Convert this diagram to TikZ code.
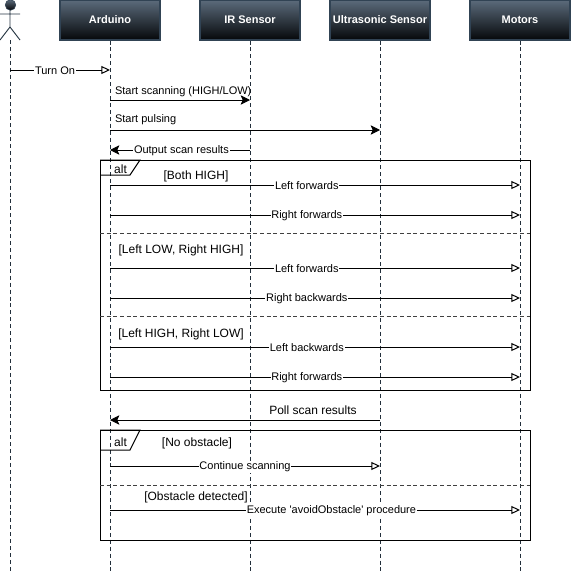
\documentclass[tikz,border=0pt]{standalone}
\usepackage{fontspec}
\setmainfont{Liberation Sans}
\usetikzlibrary{arrows.meta}
\definecolor{headtop}{HTML}{5B6B7B}
\definecolor{headbot}{HTML}{05070A}
\definecolor{headline}{HTML}{314354}
\tikzset{
  header/.style={draw=headline, line width=0.8pt, top color=headtop, bottom color=headbot,
    minimum width=75pt, minimum height=30pt, inner sep=0pt, text=white, font=\fontsize{8.25}{10}\bfseries\selectfont},
  lifeline/.style={draw=headline!70!black, dashed, dash pattern=on 3pt off 2.2pt, line width=0.6pt},
  openmsg/.style={-{Triangle[open,length=6.5pt,width=6pt]}, line width=0.75pt},
  fullmsg/.style={-{Stealth[length=7pt,width=7pt,inset=1.5pt]}, line width=0.75pt},
  msgtext/.style={fill=white, inner sep=0.6pt, yshift=-0.7pt, font=\fontsize{8.25}{10}\selectfont},
  guard/.style={inner sep=0pt, yshift=-0.7pt, font=\fontsize{9}{11}\selectfont},
  frame/.style={draw, line width=0.75pt},
  divider/.style={dashed, dash pattern=on 3pt off 2pt, draw=black!75, line width=0.75pt}
}
\begin{document}
\begin{tikzpicture}[x=0.75pt,y=-0.75pt]
  \useasboundingbox (0,0) rectangle (571,571);
  \clip (0,0) rectangle (571,571);

  % Lifeline heads
  \foreach \name/\x/\txt in {arduino/110/Arduino,ir/250/IR Sensor,ultra/380/Ultrasonic Sensor,motors/520/Motors} {
    \node[header] (\name) at (\x,20) {\raisebox{-0.6pt}{\txt}};
    \coordinate (\name end) at (\x,571);
    \draw[lifeline] (\name) -- (\name end);
  }

  % Actor
  \coordinate (user) at (10,40);
  \coordinate (user end) at (10,571);
  \shade[top color=headtop, bottom color=headbot, draw=headline] (10.5,5) circle (5.3);
  \draw[headline!80!black, line width=0.7pt] (10,10) -- (10,27) (0,14) -- (20,14) (0,40) -- (10,27) -- (20,40);
  \draw[lifeline] (user) -- (user end);

  % Frames
  \draw[frame] (100,160) rectangle (530,390);
  \draw[frame] (100,160) -- (140,160) -- (130,175) -- (100,175);
  \node[guard] (alta) at (120.5,168) {alt};
  \draw[divider] (100,233) -- (530,233);
  \draw[divider] (100,316) -- (530,316);
  \draw[frame] (100,430) rectangle (530,540);
  \draw[frame] (100,430) -- (140,430) -- (130,450) -- (100,450);
  \node[guard] (altb) at (120.5,441) {alt};
  \draw[divider] (100,485) -- (530,485);

  % Guards
  \node[guard] (both) at (196,175) {[Both HIGH]};
  \node[guard] (lowhigh) at (181,249) {[Left LOW, Right HIGH]};
  \node[guard] (highlow) at (181,333) {[Left HIGH, Right LOW]};
  \node[guard] (noobs) at (197,442) {[No obstacle]};
  \node[guard] (obs) at (196,496) {[Obstacle detected]};

  % Messages with the label on the line
  \foreach \y/\from/\to/\kind/\lpos/\txt in {
    70/user/arduino/openmsg/.45/Turn On,
    150/ir/arduino/fullmsg/.49/Output scan results,
    185/arduino/motors/openmsg/.48/Left forwards,
    215/arduino/motors/openmsg/.48/Right forwards,
    268/arduino/motors/openmsg/.48/Left forwards,
    298/arduino/motors/openmsg/.48/Right backwards,
    347/arduino/motors/openmsg/.48/Left backwards,
    377/arduino/motors/openmsg/.48/Right forwards,
    466/arduino/ultra/openmsg/.5/Continue scanning,
    510/arduino/motors/openmsg/.54/Execute \textquotesingle avoidObstacle\textquotesingle{} procedure} {
    \draw[\kind] (\from |- 0,\y) -- node[msgtext,pos=\lpos] {\txt} (\to |- 0,\y);
  }

  % Messages with the label above
  \draw[fullmsg] (arduino |- 0,100) -- (ir |- 0,100);
  \node[msgtext,fill=none,anchor=west] (scan) at (114,91) {Start scanning (HIGH/LOW)};
  \draw[fullmsg] (arduino |- 0,130) -- (ultra |- 0,130);
  \node[msgtext,fill=none,anchor=west] (pulse) at (114,119) {Start pulsing};
  \draw[fullmsg] (ultra |- 0,420) -- (arduino |- 0,420);
  \node[guard] (poll) at (313,409.5) {Poll scan results};
\end{tikzpicture}
\end{document}
